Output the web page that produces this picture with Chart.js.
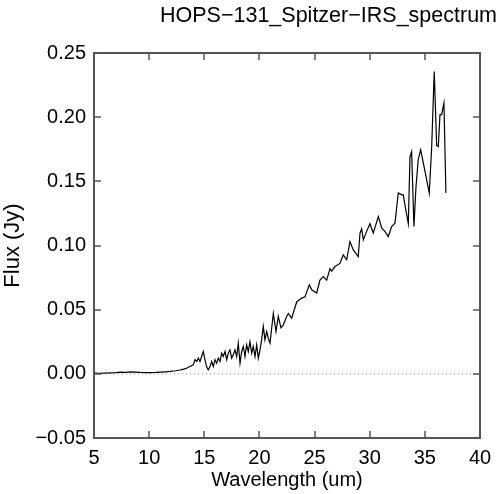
<!DOCTYPE html>
<html>
<head>
<meta charset="utf-8">
<script src="https://cdn.jsdelivr.net/npm/chart.js@4.4.0/dist/chart.umd.min.js"></script>
<style>
  html, body { margin: 0; padding: 0; background: #fff; }
  #wrap { width: 500px; height: 494px; }
</style>
</head>
<body>
<div id="wrap"><canvas id="myChart"></canvas></div>
<script>
// spectrum
var wavelength = [5.0, 5.5, 6.0, 6.5, 7.0, 7.4, 7.8, 8.3, 8.8, 9.2, 9.7, 10.1, 10.6, 11.0, 11.5, 11.9, 12.4, 12.8, 13.3,
  13.70, 14.00, 14.16, 14.31, 14.46, 14.61, 14.76, 14.91, 15.06, 15.21, 15.36, 15.52, 15.67, 15.82, 15.97, 16.12, 16.27, 16.42,
  16.58, 16.72, 16.88, 17.03, 17.18, 17.33, 17.48, 17.63, 17.78, 17.94, 18.08, 18.24, 18.39, 18.54, 18.69, 18.84, 18.99, 19.14,
  19.30, 19.44, 19.60, 19.75, 19.90, 20.05, 20.20, 20.35, 20.50, 20.66, 20.80, 20.96, 21.26, 21.5, 21.71, 21.95,
  22.16, 22.47, 22.62, 22.92, 23.38, 23.83, 24.13, 24.52, 24.74, 25.19, 25.49, 25.79, 26.10, 26.40, 26.55, 26.85, 27.30, 27.60,
  27.91, 28.21, 28.51, 28.96, 29.12, 29.27, 29.42, 29.72, 30.02, 30.32, 30.78, 31.09, 31.38, 31.68, 31.99, 32.29, 32.59, 32.90,
  33.04, 33.29, 33.50, 33.65, 33.80, 34.01, 34.19, 34.40, 34.62, 35.01, 35.40, 35.62, 35.85, 36.07, 36.22, 36.37, 36.52, 36.73, 36.91];
var flux = [0.0005, 0.0003, 0.0006, 0.0008, 0.0010, 0.0013, 0.0012, 0.0015, 0.0013, 0.0011, 0.0010, 0.0010, 0.0011, 0.0013, 0.0016, 0.0019, 0.0024, 0.0030, 0.0040,
  0.0057, 0.0070, 0.0110, 0.0096, 0.0122, 0.0096, 0.0135, 0.0174, 0.0110, 0.0057, 0.0030, 0.0057, 0.0096, 0.0057, 0.0110, 0.0083, 0.0122, 0.0096,
  0.0161, 0.0135, 0.0174, 0.0110, 0.0161, 0.0187, 0.0122, 0.0148, 0.0187, 0.0135, 0.0239, 0.0083, 0.0174, 0.0213, 0.0135, 0.0226, 0.0174, 0.0250,
  0.0161, 0.0213, 0.0135, 0.0226, 0.0122, 0.0187, 0.0265, 0.0369, 0.0265, 0.0330, 0.0278, 0.024, 0.047, 0.033, 0.0447, 0.036,
  0.038, 0.0447, 0.047, 0.0434, 0.056, 0.059, 0.060, 0.0694, 0.0655, 0.063, 0.073, 0.0758, 0.073, 0.082, 0.080, 0.0836, 0.086, 0.0927,
  0.0889, 0.103, 0.0966, 0.0914, 0.1097, 0.113, 0.1044, 0.111, 0.117, 0.1097, 0.1226, 0.1135, 0.111, 0.107, 0.1148, 0.1174, 0.141, 0.1395,
  0.1395, 0.127, 0.117, 0.169, 0.173, 0.1148, 0.145, 0.167, 0.1746, 0.158, 0.1408, 0.177, 0.2356, 0.178, 0.177, 0.202, 0.202, 0.211, 0.141];

var xRange = [5, 40];
var yRange = [-0.05, 0.25];
var titleText = 'HOPS\u2212131_Spitzer\u2212IRS_spectrum';

var points = wavelength.map(function(w, i) { return {x: w, y: flux[i]}; });
var zeroLine = [{x: xRange[0], y: 0}, {x: xRange[1], y: 0}];

Chart.defaults.font.family = '"Liberation Sans", Arial, sans-serif';
Chart.defaults.color = '#000';

var axisColor = '#555';

// inward ticks on all four sides, and the title
var tickPlugin = {
  id: 'inticks',
  afterDraw: function(chart) {
    var c = chart.ctx;
    var xs = chart.scales.x, ys = chart.scales.y;
    var len = 7;
    var L = xs.left, R = xs.right, T = ys.top, B = ys.bottom;
    c.save();
    c.strokeStyle = axisColor;
    c.lineWidth = 1.5;
    xs.ticks.forEach(function(t) {
      var px = Math.round(xs.getPixelForValue(t.value));
      c.beginPath(); c.moveTo(px, B); c.lineTo(px, B - len); c.stroke();
      c.beginPath(); c.moveTo(px, T); c.lineTo(px, T + len); c.stroke();
    });
    ys.ticks.forEach(function(t) {
      var py = Math.round(ys.getPixelForValue(t.value));
      c.beginPath(); c.moveTo(L, py); c.lineTo(L + len, py); c.stroke();
      c.beginPath(); c.moveTo(R, py); c.lineTo(R - len, py); c.stroke();
    });
    c.fillStyle = '#000';
    c.font = '21.5px "Liberation Sans", Arial, sans-serif';
    c.textAlign = 'right';
    c.textBaseline = 'alphabetic';
    c.fillText(titleText, 497, 22);
    c.restore();
  }
};

const ctx = document.getElementById('myChart');
var chart = new Chart(ctx, {
  type: 'scatter',
  data: {
    datasets: [{
      data: zeroLine,
      showLine: true,
      borderColor: '#888',
      borderWidth: 1,
      borderDash: [1, 3],
      pointRadius: 0
    }, {
      data: points,
      showLine: true,
      borderColor: '#000',
      borderWidth: 1.2,
      pointRadius: 0,
      tension: 0
    }]
  },
  options: {
    responsive: true,
    maintainAspectRatio: false,
    animation: false,
    layout: { padding: { top: 53, right: 20, left: 0, bottom: 0 } },
    plugins: { legend: { display: false }, tooltip: { enabled: false } },
    scales: {
      x: {
        type: 'linear',
        min: xRange[0], max: xRange[1],
        grid: { display: false },
        border: { display: true, color: axisColor, width: 2 },
        ticks: { stepSize: 5, padding: 0, font: { size: 20 }, maxRotation: 0 },
        title: { display: true, text: 'Wavelength (um)', font: { size: 20 }, padding: { top: 0, bottom: 2 } },
        afterFit: function(s) { s.height = 56; }
      },
      x2: {
        type: 'linear', position: 'top',
        min: xRange[0], max: xRange[1],
        grid: { display: false, drawTicks: false },
        border: { display: true, color: axisColor, width: 2 },
        ticks: { display: false },
        afterFit: function(s) { s.height = 0; }
      },
      y: {
        type: 'linear',
        min: yRange[0], max: yRange[1],
        grid: { display: false },
        border: { display: true, color: axisColor, width: 2 },
        ticks: {
          stepSize: 0.05, padding: 0, font: { size: 20 },
          callback: function(v) {
            if (Math.abs(v) < 1e-9) v = 0;
            return v.toFixed(2).replace('-', '\u2212');
          }
        },
        title: { display: true, text: 'Flux (Jy)', font: { size: 22 }, padding: { top: 0, bottom: 0 } },
        afterFit: function(s) { s.width = 94; }
      },
      y2: {
        type: 'linear', position: 'right',
        min: yRange[0], max: yRange[1],
        grid: { display: false, drawTicks: false },
        border: { display: true, color: axisColor, width: 2 },
        ticks: { display: false },
        afterFit: function(s) { s.width = 0; }
      }
    }
  },
  plugins: [tickPlugin]
});
</script>
</body>
</html>
